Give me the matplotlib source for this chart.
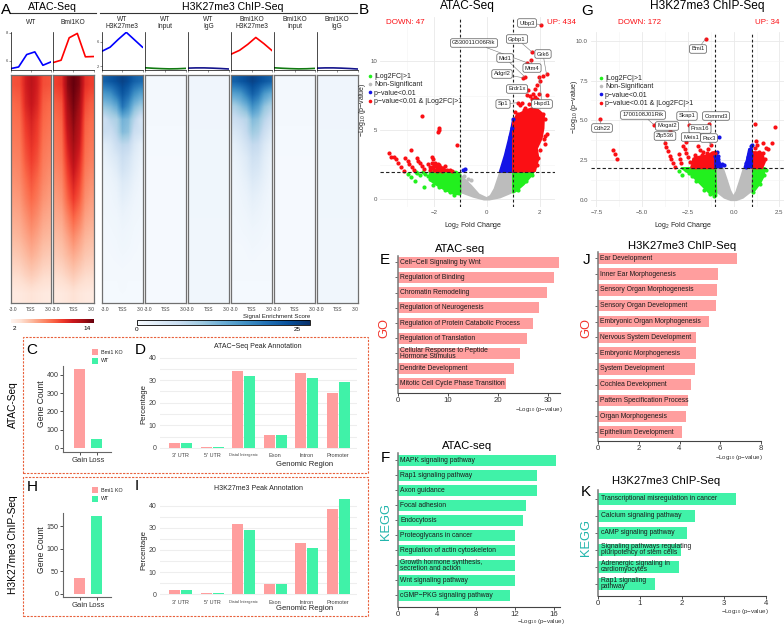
import matplotlib
matplotlib.use('Agg')
import matplotlib.pyplot as plt
from matplotlib.cm import ScalarMappable
from matplotlib.colors import Normalize
from matplotlib.lines import Line2D
from matplotlib.patches import Rectangle

plt.rcParams['font.family'] = ['Liberation Sans', 'DejaVu Sans']
plt.rcParams['mathtext.default'] = 'regular'

W, H = 784, 625
PINK = '#ff9e9e'
MINT = '#40f2a8'
TEAL = '#22b5ac'
GO_RED = '#f2332b'
DASH = '#e8613c'
GRID = '#eeeeee'
V_RED = '#fb0f14'
V_BLUE = '#1414e6'
V_GREEN = '#22f01e'
V_GREY = '#bcbcbc'

# signal profiles above the heatmaps
profile_x = [0, 1, 2, 3, 4, 5]
atac_wt_profile = [5.45, 5.57, 6.45, 6.64, 5.69, 5.93]
atac_ko_profile = [5.88, 6.05, 7.64, 7.95, 6.29, 6.31]
h3_wt_profile = [4.45, 5.1, 6.35, 7.5, 6.3, 5.1]
h3_ko_profile = [4.0, 4.6, 5.55, 6.67, 5.67, 4.55]
input_profile = [1.78, 1.7, 1.64, 1.6, 1.62, 1.68]
igg_profile = [1.72, 1.76, 1.76, 1.72, 1.66, 1.58]

# heatmap signal, rows top to bottom, -3 kb to +3 kb across
atac_wt_signal = [
    [9.0, 9.2, 11.2, 12.2, 11.2, 9.2, 9.0],
    [8.2, 8.5, 10.8, 11.8, 10.8, 8.6, 8.2],
    [7.8, 8.0, 10.0, 11.0, 10.0, 8.2, 7.8],
    [7.4, 7.6, 9.4, 10.4, 9.6, 7.8, 7.4],
    [7.0, 7.2, 8.8, 9.8, 9.0, 7.4, 7.0],
    [6.5, 6.8, 8.0, 9.0, 8.2, 7.0, 6.5],
    [6.0, 6.2, 7.3, 8.2, 7.5, 6.4, 6.0],
    [5.4, 5.6, 6.4, 7.2, 6.6, 5.7, 5.4],
    [4.8, 5.0, 5.6, 6.2, 5.7, 5.0, 4.8],
    [4.0, 4.2, 4.7, 5.2, 4.8, 4.2, 4.0],
    [3.2, 3.3, 3.7, 4.0, 3.7, 3.3, 3.2],
    [2.2, 2.3, 2.5, 2.7, 2.5, 2.3, 2.2],
]
atac_ko_signal = [
    [9.8, 10.2, 14.0, 15.0, 14.2, 10.4, 9.8],
    [8.6, 9.0, 13.2, 14.6, 13.4, 9.4, 8.6],
    [8.0, 8.4, 12.4, 14.0, 12.6, 8.6, 8.0],
    [7.6, 8.0, 11.4, 13.4, 11.8, 8.2, 7.6],
    [7.2, 7.6, 10.4, 12.4, 10.8, 7.8, 7.2],
    [6.6, 7.0, 9.4, 11.2, 9.8, 7.2, 6.6],
    [6.0, 6.4, 8.4, 10.0, 8.8, 6.6, 6.0],
    [5.4, 5.6, 7.0, 8.4, 7.4, 5.8, 5.4],
    [4.7, 4.9, 5.8, 6.8, 6.0, 5.0, 4.7],
    [4.0, 4.2, 4.8, 5.4, 4.9, 4.2, 4.0],
    [3.2, 3.3, 3.7, 4.1, 3.7, 3.3, 3.2],
    [2.2, 2.3, 2.5, 2.8, 2.5, 2.3, 2.2],
]
h3_wt_signal = [
    [22, 23, 24, 25, 24, 22, 21],
    [16, 17, 20, 23, 21, 17, 15],
    [11, 12, 14, 20, 17, 12, 10],
    [6, 8, 9, 13, 12, 8, 5],
    [6, 6, 8, 12, 11, 6, 5],
    [3, 4, 6, 7.5, 7, 4, 2.5],
    [2, 3, 4, 6, 5, 3, 2],
    [1.5, 2, 3, 5, 4, 2.5, 1.5],
    [1.2, 1.5, 2, 3.5, 3, 1.8, 1.2],
    [1, 1.2, 1.6, 2.8, 2.2, 1.4, 1],
    [0.9, 1.1, 1.3, 2, 1.6, 1.1, 0.9],
    [0.8, 0.9, 1, 1.5, 1.3, 0.9, 0.8],
    [0.7, 0.8, 0.9, 1.2, 1, 0.8, 0.7],
    [0.6, 0.7, 0.8, 1, 0.9, 0.7, 0.6],
    [0.6, 0.6, 0.7, 0.8, 0.7, 0.6, 0.6],
    [0.5, 0.5, 0.5, 0.6, 0.5, 0.5, 0.5],
    [0.4, 0.4, 0.4, 0.5, 0.4, 0.4, 0.4],
    [0.4, 0.4, 0.4, 0.4, 0.4, 0.4, 0.4],
]
h3_ko_signal = [
    [22, 23, 24, 25, 24, 23, 22],
    [15, 16, 19, 22, 20, 16, 14],
    [9, 11, 13, 17, 15, 11, 9],
    [6, 7, 8, 12, 11, 8, 6],
    [4, 5, 7, 10, 9, 6, 4],
    [2.5, 3.5, 5, 7, 6.5, 4, 2.5],
    [1.8, 2.5, 3.5, 5.5, 5, 3, 1.8],
    [1.5, 2, 3, 4.5, 4, 2.5, 1.5],
    [1.2, 1.6, 2.2, 3.5, 3, 2, 1.2],
    [1, 1.3, 1.7, 2.6, 2.2, 1.5, 1],
    [0.9, 1.1, 1.4, 2, 1.7, 1.2, 0.9],
    [0.8, 0.9, 1.1, 1.5, 1.3, 1, 0.8],
    [0.7, 0.8, 0.9, 1.1, 1, 0.8, 0.7],
    [0.6, 0.6, 0.7, 0.9, 0.8, 0.7, 0.6],
    [0.5, 0.5, 0.6, 0.7, 0.6, 0.5, 0.5],
    [0.5, 0.5, 0.5, 0.5, 0.5, 0.5, 0.5],
    [0.4, 0.4, 0.4, 0.4, 0.4, 0.4, 0.4],
    [0.4, 0.4, 0.4, 0.4, 0.4, 0.4, 0.4],
]
input_signal = [[0.5], [0.3], [0.25], [0.25]]
igg_signal = [[1.1], [1.0], [0.95], [0.9]]

# gene counts and peak annotation
count_groups = ['Gain', 'Loss']
atac_counts = [434, 47]
h3_counts = [34, 172]
regions = ["3' UTR", "5' UTR", 'Distal Intergenic', 'Exon', 'Intron', 'Promoter']
atac_peaks_ko = [2.2, 0.3, 34.0, 5.8, 33.0, 24.5]
atac_peaks_wt = [2.1, 0.3, 32.0, 5.5, 30.8, 29.2]
h3_peaks_ko = [2.0, 0.4, 31.7, 4.6, 23.0, 38.6]
h3_peaks_wt = [2.0, 0.4, 29.0, 4.6, 21.0, 43.0]

# enrichment
atac_go_terms = ['Cell−Cell Signaling by Wnt', 'Regulation of Binding', 'Chromatin Remodeling',
                 'Regulation of Neurogenesis', 'Regulation of Protein Catabolic Process',
                 'Regulation of Translation', 'Cellular Response to Peptide\nHormone Stimulus',
                 'Dendrite Development', 'Mitotic Cell Cycle Phase Transition']
atac_go_values = [32.2, 31.2, 29.8, 28.2, 26.9, 25.7, 24.3, 23.2, 21.6]
atac_kegg_terms = ['MAPK signaling pathway', 'Rap1 signaling pathway', 'Axon guidance',
                   'Focal adhesion', 'Endocytosis', 'Proteoglycans in cancer',
                   'Regulation of actin cytoskeleton',
                   'Growth hormone synthesis,\nsecretion and action',
                   'Wnt signaling pathway', 'cGMP−PKG signaling pathway']
atac_kegg_values = [16.15, 14.25, 14.2, 13.15, 12.8, 12.0, 12.0, 12.0, 12.0, 11.45]
h3_go_terms = ['Ear Development', 'Inner Ear Morphogenesis', 'Sensory Organ Morphogenesis',
               'Sensory Organ Development', 'Embryonic Organ Morphogenesis',
               'Nervous System Development', 'Embryonic Morphogenesis', 'System Development',
               'Cochlea Development', 'Pattern Specification Process', 'Organ Morphogenesis',
               'Epithelium Development']
h3_go_values = [6.8, 5.9, 5.83, 5.77, 5.43, 4.79, 4.79, 4.77, 4.57, 4.43, 4.3, 4.13]
h3_kegg_terms = ['Transcriptional misregulation in cancer', 'Calcium signaling pathway',
                 'cAMP signaling pathway',
                 'Signaling pathways regulating\npluripotency of stem cells',
                 'Adrenergic signaling in\ncardiomyocytes', 'Rap1 signaling\npathway']
h3_kegg_values = [3.29, 2.3, 2.13, 1.98, 1.93, 1.36]

# ATAC volcano: single genes as (log2FC, -log10 p)
atac_red = [(-2.44, 6.05), (-1.79, 5.18), (-1.81, 4.99), (-1.84, 4.87), (-1.12, 3.93), (-2.86, 3.56),
            (-3.70, 3.37), (-3.61, 3.08), (-3.52, 3.08), (-3.43, 2.89), (-3.35, 2.60), (-3.25, 2.36),
            (-3.13, 2.09), (-3.07, 3.03), (-2.99, 2.77), (-2.92, 2.55), (-2.83, 2.33), (-2.73, 2.11),
            (-2.64, 2.99), (-2.58, 2.79), (-2.52, 2.60), (-2.44, 2.41), (-2.37, 2.19), (-2.08, 3.08),
            (-2.04, 2.91), (-2.22, 2.55), (-2.08, 2.60), (-1.95, 2.60), (-2.14, 2.36), (-2.01, 2.36),
            (-1.89, 2.36), (-1.76, 2.36), (-1.64, 2.24), (-1.83, 2.17), (-1.95, 2.15), (-1.70, 2.07),
            (-1.39, 2.12), (-1.32, 2.07), (-1.57, 2.41), (-2.08, 2.24), (-1.51, 2.12), (-1.85, 2.55),
            (-2.0, 2.5), (-1.9, 2.45), (-1.8, 2.5), (-1.7, 2.3), (-1.6, 2.1), (-2.15, 2.15),
            (-1.78, 2.12), (-1.88, 2.08), (-2.0, 2.12),
            (2.07, 12.65), (1.72, 10.65), (1.67, 10.07), (1.51, 9.9), (1.44, 8.87), (1.38, 8.8),
            (2.26, 9.04), (2.11, 8.92), (1.99, 8.87), (2.01, 8.58), (1.89, 8.31), (1.84, 7.98),
            (1.99, 7.66), (1.76, 7.66), (1.57, 7.9), (1.51, 7.55), (1.64, 7.47), (1.82, 7.41),
            (2.29, 7.55), (1.70, 7.3), (1.89, 7.30), (1.19, 7.0), (1.26, 6.8), (1.44, 6.6),
            (1.07, 6.3), (1.32, 7.0), (2.14, 6.2), (2.07, 6.1), (2.26, 4.75), (2.2, 4.6),
            (2.16, 4.35), (2.2, 4.0), (1.95, 2.96), (2.1, 5.9), (2.2, 5.8), (1.85, 6.8),
            (1.6, 6.9), (1.4, 6.45), (1.2, 6.2), (2.0, 3.6), (1.9, 2.5), (2.05, 5.1)]
atac_blue = [(-0.82, 2.21), (-0.88, 2.11), (0.98, 5.85), (0.94, 5.2), (0.87, 4.5), (0.76, 3.6)]
atac_green = [(-2.68, 2.0), (-2.62, 1.93), (-2.52, 1.76), (-2.39, 2.0), (-2.33, 1.83), (-2.86, 1.59),
              (-2.71, 1.35), (-2.99, 1.83), (-2.35, 0.87), (-2.02, 1.04), (-1.79, 0.87), (-1.57, 0.67),
              (-1.22, 0.33), (-2.2, 1.7), (-2.15, 1.45), (-1.4, 0.5), (1.7, 1.8), (1.5, 1.3), (1.2, 0.7)]
atac_grey = [(-0.60, 1.39), (-0.7, 1.5), (-0.85, 1.7)]

# ATAC volcano: outlines of the dense clouds
atac_red_cloud = [(1.0, 2.0), (1.82, 2.05), (1.95, 2.96), (1.89, 3.68), (2.07, 4.41), (2.14, 5.14),
                  (2.16, 6.09), (1.95, 6.46), (1.70, 6.58), (1.51, 6.46), (1.13, 6.09), (1.0, 5.6)]
atac_blue_cloud = [(0.5, 2.0), (1.0, 2.0), (1.0, 5.8), (0.93, 5.1), (0.82, 4.2), (0.69, 3.2)]
atac_green_left = [(-2.15, 2.0), (-1.15, 2.0), (-1.0, 1.8), (-1.0, 0.35), (-1.3, 0.45), (-1.77, 0.9),
                   (-2.14, 1.39)]
atac_green_right = [(1.0, 2.0), (1.78, 2.0), (1.65, 1.65), (1.4, 1.1), (1.1, 0.6), (1.0, 0.5)]
atac_grey_cloud = [(-1.0, 1.75), (-0.6, 1.0), (-0.3, 0.35), (0.0, 0.08), (0.15, 0.25), (0.3, 0.75),
                   (0.52, 2.0), (1.0, 2.0), (1.0, 0.55), (0.5, 0.15), (0.1, 0.0), (-0.1, 0.0),
                   (-0.5, 0.2), (-1.0, 0.55)]

atac_labels = ['Ulbp3', 'Gpbp1', 'G530011O06Rik', 'Grk6', 'Mid1', 'Mtm4', 'Adgrl2', 'Erdr1x', 'Sp1', 'Hspd1']
atac_label_genes = [(2.07, 12.65), (1.72, 10.65), (1.51, 9.9), (2.26, 9.04), (1.44, 8.87),
                    (1.67, 10.07), (1.38, 8.8), (1.57, 7.9), (1.19, 7.0), (1.99, 8.87)]

# H3K27me3 volcano: single genes
h3_red = [(-7.31, 5.06), (-6.6, 3.16), (-6.49, 2.87), (-6.36, 2.6), (-1.53, 10.13), (-4.36, 4.73),
          (-3.48, 4.33), (-3.77, 3.6), (-3.7, 3.3), (-3.6, 3.1), (-3.49, 2.79), (-3.4, 2.55),
          (-3.3, 2.34), (-3.2, 2.1), (-2.98, 2.86), (-2.93, 2.6), (-2.85, 2.34), (-2.75, 3.39),
          (-2.66, 3.18), (-2.58, 2.93), (-2.48, 2.67), (-2.39, 2.4), (-2.3, 2.14), (-2.58, 3.65),
          (-2.42, 4.7), (-1.33, 4.8), (-1.24, 3.45), (-1.94, 3.39), (-1.85, 3.14), (-1.66, 3.04),
          (-1.38, 3.18), (-1.47, 2.93), (-1.2, 2.93), (-1.02, 2.93), (-2.1, 2.85), (-1.75, 2.8),
          (1.16, 4.8), (2.25, 4.6), (2.08, 3.6), (1.58, 3.6), (1.76, 3.27), (1.2, 3.7),
          (1.26, 3.45), (1.62, 2.93), (1.16, 3.25), (1.4, 3.0), (1.7, 2.6), (1.9, 3.2)]
h3_blue = [(-0.91, 3.0), (-1.0, 2.77), (-0.84, 2.6), (-0.84, 2.4), (-0.93, 2.24), (-0.65, 2.24),
           (-0.52, 2.2), (-0.78, 3.96), (-0.83, 2.75), (-0.72, 2.2), (0.65, 2.1), (0.77, 2.7),
           (0.89, 3.1), (1.0, 3.45), (0.95, 2.8), (0.7, 2.35), (0.85, 2.9), (0.95, 3.4)]
h3_green = [(-2.97, 1.84), (-2.83, 1.57), (-2.6, 1.9), (-2.45, 1.7), (-2.3, 1.5), (-2.05, 1.2),
            (-1.6, 0.6), (-1.3, 0.4), (-1.05, 0.25), (1.05, 0.5), (1.75, 1.9), (1.65, 1.55), (1.45, 1.0)]

h3_red_left = [(-2.3, 2.0), (-2.2, 2.6), (-1.94, 2.7), (-1.47, 2.8), (-1.02, 3.03), (-1.0, 2.0)]
h3_red_right = [(1.0, 2.0), (1.0, 3.0), (1.2, 3.0), (1.55, 2.95), (1.7, 2.4), (1.55, 2.0)]
h3_blue_left = [(-1.0, 2.05), (-0.65, 2.05), (-0.82, 2.5), (-0.95, 2.9), (-1.0, 2.9)]
h3_blue_right = [(0.6, 2.05), (1.0, 2.05), (1.0, 3.2), (0.85, 3.2), (0.72, 2.5)]
h3_green_left = [(-2.84, 2.0), (-1.0, 2.0), (-0.95, 0.25), (-1.3, 0.42), (-1.84, 1.05), (-2.39, 1.67)]
h3_green_right = [(1.07, 2.0), (1.71, 2.0), (1.62, 1.46), (1.44, 1.06), (1.16, 0.63), (1.04, 0.63)]
h3_grey_cloud = [(-1.0, 2.0), (-0.6, 2.0), (-0.38, 1.25), (-0.2, 0.6), (-0.02, 0.18), (0.15, 0.5),
                 (0.35, 1.2), (0.55, 1.95), (1.0, 2.0), (1.0, 0.6), (0.5, 0.15), (0.15, 0.0),
                 (-0.15, 0.0), (-0.5, 0.15), (-1.0, 0.6)]

h3_labels = ['Bmi1', '1700108J01Rik', 'Skap1', 'Commd3', 'Cdh22', 'Mogat2', 'Prss16', 'Zfp536', 'Meis1', 'Pax3']
h3_label_genes = [(-1.53, 10.13), (-4.36, 4.73), (-2.42, 4.7), (-1.33, 4.8), (-7.31, 5.06),
                  (-3.48, 4.33), (-1.24, 3.45), (-3.77, 3.6), (-2.58, 3.65), (-1.24, 3.45)]

# where the gene label boxes sit on the canvas
atac_label_boxes = [(527, 23), (517, 39), (474, 43), (543, 54), (505, 58), (532, 68),
                    (502, 74), (517, 89), (503, 104), (542, 104)]
h3_label_boxes = [(698, 49), (643, 115), (687, 116), (716, 116), (602, 128), (667, 126),
                  (700, 129), (665, 136), (691, 137), (709, 138)]

fig = plt.figure(figsize=(W / 100, H / 100), dpi=100, facecolor='white')


def px_axes(left, top, right, bottom):
    return fig.add_axes([left / W, 1 - bottom / H, (right - left) / W, (bottom - top) / H])


def label(x, y, s, size=6, **kw):
    kw.setdefault('ha', 'center')
    kw.setdefault('va', 'center')
    fig.text(x / W, 1 - y / H, s, fontsize=size, **kw)


def hline(x0, x1, y, color='#333333', lw=0.8):
    fig.add_artist(Line2D([x0 / W, x1 / W], [1 - y / H, 1 - y / H], color=color, lw=lw))


# ---- A: profiles and heatmaps
label(6, 10, 'A', 11)
label(52, 7, 'ATAC-Seq', 7.6)
label(233, 7, 'H3K27me3 ChIP-Seq', 7.6)
hline(10, 96, 13)
hline(100, 357, 13)

columns = [
    (10.5, 51, 'WT', atac_wt_profile, 'blue', (5.39, 8.05), [6, 8], atac_wt_signal, 'Reds', 15),
    (53, 93.5, 'Bmi1KO', atac_ko_profile, 'red', (5.39, 8.05), [], atac_ko_signal, 'Reds', 15),
    (102, 142.5, 'WT\nH3K27me3', h3_wt_profile, 'blue', (1.5, 7.55), [2, 6], h3_wt_signal, 'Blues', 27),
    (145, 185.5, 'WT\nInput', input_profile, '#127a12', (1.5, 7.55), [], input_signal, 'Blues', 27),
    (187.5, 229, 'WT\nIgG', igg_profile, '#14148c', (1.5, 7.55), [], igg_signal, 'Blues', 27),
    (231.5, 272, 'Bmi1KO\nH3K27me3', h3_ko_profile, 'red', (1.5, 7.55), [], h3_ko_signal, 'Blues', 27),
    (274, 315, 'Bmi1KO\nInput', input_profile, '#127a12', (1.5, 7.55), [], input_signal, 'Blues', 27),
    (317, 357.5, 'Bmi1KO\nIgG', igg_profile, '#14148c', (1.5, 7.55), [], igg_signal, 'Blues', 27),
]
for left, right, name, profile, color, ylim, yticks, signal, cmap, vmax in columns:
    ax = px_axes(left, 32, right, 69.5)
    ax.plot(profile_x, profile, color=color, lw=1.2)
    ax.set_xlim(0, 5)
    ax.set_ylim(*ylim)
    ax.set_xticks([0, 2.5, 5], [])
    ax.set_yticks(yticks, [str(t) for t in yticks])
    ax.tick_params(length=1.2, width=0.4, labelsize=3, pad=0.8, colors='#444444')
    for side in ['top', 'right']:
        ax.spines[side].set_visible(False)
    for side in ['left', 'bottom']:
        ax.spines[side].set_linewidth(0.5)
    label((left + right) / 2, 23, name, 4.8, linespacing=1.1, color='#222222')

    hm = px_axes(left, 75, right, 303)
    vmin = 1.3 if cmap == 'Reds' else 0
    hm.imshow(signal, aspect='auto', cmap=cmap, vmin=vmin, vmax=vmax,
              interpolation='bilinear', extent=(-3, 3, 1, 0))
    hm.set_yticks([])
    hm.set_xticks([-2.6, 0, 2.6], ['-3.0', 'TSS', '3.0'])
    hm.tick_params(length=0, labelsize=3.6, pad=3, colors='#444444')
    for spine in hm.spines.values():
        spine.set_color('#707070')
        spine.set_linewidth(0.9)

red_bar = px_axes(10.5, 319, 93.5, 323.5)
fig.colorbar(ScalarMappable(Normalize(1.3, 15), 'Reds'), cax=red_bar, orientation='horizontal')
red_bar.set_xticks([2, 14], ['2', '14'])
red_bar.tick_params(length=0, labelsize=4.6, pad=1.5)
red_bar.spines['outline'].set_visible(False)

blue_bar = px_axes(137, 320, 310, 325)
fig.colorbar(ScalarMappable(Normalize(0, 27), 'Blues'), cax=blue_bar, orientation='horizontal')
blue_bar.set_xticks([0, 25], ['0', '25'])
blue_bar.tick_params(length=0, labelsize=4.6, pad=1.5)
blue_bar.spines['outline'].set_linewidth(0.6)
label(277, 316, 'Signal Enrichment Score', 4.4, color='#222222')


# ---- C, D, H, I: dashed frames and bar charts
for top, bottom in [(337, 473), (477, 616)]:
    fig.add_artist(Rectangle((22.7 / W, 1 - bottom / H), (368 - 22.7) / W, (bottom - top) / H,
                             transform=fig.transFigure, fill=False, ec=DASH, lw=0.8, ls=(0, (2, 1.2))))


def gene_count_axes(top, bottom, counts, ylim, yticks, legend_y):
    ax = px_axes(63, top, 111, bottom)
    ax.bar([0, 1], counts, width=0.7, color=[PINK, MINT])
    ax.set_xlim(-0.97, 1.85)
    ax.set_ylim(*ylim)
    ax.set_yticks(yticks)
    ax.set_xticks([0, 1], count_groups)
    ax.tick_params(axis='y', labelsize=5.1, length=2, width=0.6, pad=1.2, colors='#333333')
    ax.tick_params(axis='x', labelsize=5.6, length=2, width=0.6, pad=1.5, colors='#333333')
    for side in ['top', 'right']:
        ax.spines[side].set_visible(False)
    for side in ['left', 'bottom']:
        ax.spines[side].set_color('#666666')
        ax.spines[side].set_linewidth(0.8)
    for y, name, color in zip(legend_y, ['Bmi1 KO', 'WT'], [PINK, MINT]):
        fig.add_artist(Rectangle((92 / W, 1 - (y + 3) / H), 6.5 / W, 6 / H, transform=fig.transFigure,
                                 fc=color, ec='none'))
        label(101, y, name, 3.9, ha='left', color='#222222')


def peak_axes(top, bottom, ko, wt, ylim, title, title_y, xlabel_y):
    ax = px_axes(160, top, 357, bottom)
    x = list(range(len(regions)))
    ax.bar([i - 0.19 for i in x], ko, width=0.35, color=PINK, zorder=3)
    ax.bar([i + 0.19 for i in x], wt, width=0.35, color=MINT, zorder=3)
    ax.set_xlim(-0.66, 5.6)
    ax.set_ylim(*ylim)
    ax.set_yticks([0, 10, 20, 30, 40])
    ax.set_yticks([5, 15, 25, 35], minor=True)
    ax.grid(axis='y', which='both', color=GRID, lw=0.8, zorder=0)
    ax.set_xticks(x, regions)
    for tick in ax.get_xticklabels():
        tick.set_fontsize(2.9 if tick.get_text().startswith('Distal') else 4)
    ax.tick_params(axis='y', labelsize=5, pad=2.5, colors='#444444')
    ax.tick_params(axis='x', pad=2.6, colors='#444444')
    ax.tick_params(which='both', length=0)
    for spine in ax.spines.values():
        spine.set_visible(False)
    label(258, title_y, title, 5, color='#222222')
    label(305, xlabel_y, 'Genomic Region', 5.5, color='#222222')
    label(144, (top + bottom) / 2 + 4, 'Percentage', 5.6, rotation=90, color='#222222')


label(32, 350, 'C', 11)
label(140, 350, 'D', 11)
label(32, 487, 'H', 11)
label(137, 486, 'I', 11)
label(13, 405, 'ATAC-Seq', 7.3, rotation=90)
label(13, 545, 'H3K27me3 ChIP-Seq', 7.4, rotation=90)
label(42, 404, 'Gene Count', 6.2, rotation=90, color='#222222')
label(42, 550, 'Gene Count', 6.2, rotation=90, color='#222222')

gene_count_axes(366, 452, atac_counts, (-23.6, 449), [0, 100, 200, 300, 400], [352, 361])
gene_count_axes(513, 597, h3_counts, (-7.3, 179), [0, 50, 100, 150], [490, 499])
peak_axes(352, 449, atac_peaks_ko, atac_peaks_wt, (-0.5, 42.5),
          'ATAC−Seq Peak Annotation', 347, 465)
peak_axes(495, 596, h3_peaks_ko, h3_peaks_wt, (-0.75, 44.8),
          'H3K27me3 Peak Annotation', 489, 609)


# ---- B, G: volcano plots
def scatter(ax, points, color):
    ax.scatter([p[0] for p in points], [p[1] for p in points], s=9, color=color, lw=0, zorder=4)


def cloud(ax, outline, color):
    ax.fill([p[0] for p in outline], [p[1] for p in outline], color=color, lw=1.6,
            joinstyle='round', zorder=3)


def volcano_frame(ax, xlim, ylim, xticks, yticks, xminor, yminor, ytick_format):
    ax.set_xlim(*xlim)
    ax.set_ylim(*ylim)
    ax.set_xticks(xticks)
    ax.set_yticks(yticks, [ytick_format % t for t in yticks])
    ax.set_xticks(xminor, minor=True)
    ax.set_yticks(yminor, minor=True)
    ax.grid(which='major', color='#e9e9e9', lw=0.6, zorder=0)
    ax.grid(which='minor', color='#f3f3f3', lw=0.4, zorder=0)
    ax.tick_params(which='both', length=0, labelsize=4.4, pad=2, colors='#555555')
    for spine in ax.spines.values():
        spine.set_visible(False)
    ax.axvline(-1, color='#222222', lw=0.8, ls=(0, (2.5, 2)), zorder=5)
    ax.axvline(1, color='#222222', lw=0.8, ls=(0, (2.5, 2)), zorder=5)
    ax.axhline(2, color='#222222', lw=0.8, ls=(0, (3, 2)), zorder=5)


def volcano_legend(ax, x, y, fontsize):
    handles = [Line2D([], [], ls='', marker='o', ms=2.6, color=c, mew=0) for c in
               [V_GREEN, V_GREY, V_BLUE, V_RED]]
    names = ['|Log2FC|>1', 'Non-Significant', 'p−value<0.01', 'p−value<0.01 & |Log2FC|>1']
    leg = ax.legend(handles, names, loc='upper left', bbox_to_anchor=(x / W, 1 - y / H),
                    bbox_transform=fig.transFigure, frameon=False, fontsize=fontsize, borderpad=0,
                    borderaxespad=0, labelspacing=0.2, handlelength=0.5, handletextpad=0.35)
    leg.set_zorder(6)
    for text in leg.get_texts():
        text.set_color('#222222')


def gene_labels(ax, names, genes, boxes):
    for name, gene, box in zip(names, genes, boxes):
        ax.annotate(name, xy=gene, xycoords='data', xytext=(box[0] / W, 1 - box[1] / H),
                    textcoords='figure fraction', ha='center', va='center', fontsize=4.2,
                    color='#222222', zorder=7,
                    bbox=dict(boxstyle='round,pad=0.3', fc='white', ec='#555555', lw=0.5),
                    arrowprops=dict(arrowstyle='-', color='#777777', lw=0.4, shrinkA=0, shrinkB=0))


vb = px_axes(380, 17, 555, 207)
volcano_frame(vb, (-4.03, 2.58), (-0.55, 13.2), [-2, 0, 2], [0, 5, 10], [-3, -1, 1], [2.5, 7.5], '%d')
cloud(vb, atac_grey_cloud, V_GREY)
cloud(vb, atac_green_left, V_GREEN)
cloud(vb, atac_green_right, V_GREEN)
cloud(vb, atac_blue_cloud, V_BLUE)
cloud(vb, atac_red_cloud, V_RED)
scatter(vb, atac_grey, V_GREY)
scatter(vb, atac_green, V_GREEN)
scatter(vb, atac_blue, V_BLUE)
scatter(vb, atac_red, V_RED)
volcano_legend(vb, 368, 73, 5.0)
gene_labels(vb, atac_labels, atac_label_genes, atac_label_boxes)
label(364, 10, 'B', 11)
label(467, 6, 'ATAC-Seq', 8.6)
label(405, 22, 'DOWN: 47', 5.8, color=V_RED)
label(547, 22, 'UP: 434', 5.8, color=V_RED, ha='left')
label(363, 110, r'−Log$_{10}$ (p−value)', 5, rotation=90, color='#222222')
label(473, 226, r'Log$_{2}$ Fold Change', 5, color='#222222')

vg = px_axes(590.7, 32, 784, 207)
volcano_frame(vg, (-7.81, 2.75), (-0.44, 10.55), [-7.5, -5, -2.5, 0, 2.5], [0, 2.5, 5, 7.5, 10],
              [-6.25, -3.75, -1.25, 1.25], [1.25, 3.75, 6.25, 8.75], '%.1f')
cloud(vg, h3_grey_cloud, V_GREY)
cloud(vg, h3_green_left, V_GREEN)
cloud(vg, h3_green_right, V_GREEN)
cloud(vg, h3_red_left, V_RED)
cloud(vg, h3_red_right, V_RED)
cloud(vg, h3_blue_left, V_BLUE)
cloud(vg, h3_blue_right, V_BLUE)
scatter(vg, h3_green, V_GREEN)
scatter(vg, h3_blue, V_BLUE)
scatter(vg, h3_red, V_RED)
volcano_legend(vg, 599, 75, 5.0)
gene_labels(vg, h3_labels, h3_label_genes, h3_label_boxes)
label(587, 11, 'G', 11)
label(707, 6, 'H3K27me3 ChIP-Seq', 8.6)
label(640, 22, 'DOWN: 172', 5.8, color=V_RED)
label(767, 22, 'UP: 34', 5.8, color=V_RED)
label(575, 107, r'−Log$_{10}$ (p−value)', 5, rotation=90, color='#222222')
label(683, 226, r'Log$_{2}$ Fold Change', 5, color='#222222')


# ---- E, F, J, K: enrichment bars
def enrichment(box, terms, values, color, ylim, xlim, xticks, xlabel_xy, title, title_xy,
               letter, letter_xy, side, side_color, side_xy):
    ax = px_axes(*box)
    pos = list(range(len(terms)))
    ax.barh(pos, values, height=0.72, color=color, zorder=2)
    ax.set_ylim(*ylim)
    ax.set_xlim(*xlim)
    ax.set_yticks(pos, [])
    ax.set_xticks(xticks)
    ax.tick_params(axis='x', labelsize=5.6, pad=1, length=2, width=0.6, colors='#333333')
    ax.tick_params(axis='y', length=2, width=0.6, colors='#555555')
    for side_name in ['top', 'right']:
        ax.spines[side_name].set_visible(False)
    ax.spines['left'].set_color('#777777')
    ax.spines['left'].set_linewidth(1.1)
    ax.spines['bottom'].set_color('#444444')
    ax.spines['bottom'].set_linewidth(0.8)
    for y, term in zip(pos, terms):
        ax.text(xlim[1] * 0.015, y, term, fontsize=4.9, ha='left', va='center', color='#1a1a1a',
                linespacing=0.78, zorder=3)
    label(xlabel_xy[0], xlabel_xy[1], r'−Log$_{10}$ (p−value)', 4.4, ha='right', color='#333333')
    label(title_xy[0], title_xy[1], title, 8.1)
    label(letter_xy[0], letter_xy[1], letter, 11)
    label(side_xy[0], side_xy[1], side, 9.3, rotation=90, color=side_color)


enrichment((398, 256, 560, 392.7), atac_go_terms, atac_go_values, PINK, (8.58, -0.41), (0, 32.4),
           [0, 10, 20, 30], (563, 410), 'ATAC-seq', (460, 249), 'E', (385, 260), 'GO', GO_RED, (384, 328))
enrichment((398, 453, 560, 606.7), atac_kegg_terms, atac_kegg_values, MINT, (9.76, -0.49), (0, 16.6),
           [0, 4, 8, 12, 16], (565, 621.5), 'ATAC-seq', (467, 446), 'F', (385, 458), 'KEGG', TEAL, (386, 522))
enrichment((598, 252, 761, 441), h3_go_terms, h3_go_values, PINK, (11.56, -0.4), (0, 8),
           [0, 2, 4, 6, 8], (763, 458), 'H3K27me3 ChIP-Seq', (682, 246), 'J', (587, 260), 'GO', GO_RED, (586, 328))
enrichment((598, 490, 766, 596), h3_kegg_terms, h3_kegg_values, MINT, (5.72, -0.51), (0, 4),
           [0, 1, 2, 3, 4], (769, 612), 'H3K27me3 ChIP-Seq', (666, 481), 'K', (586, 492), 'KEGG', TEAL, (586, 537))

fig.savefig('out.png', dpi=100)
